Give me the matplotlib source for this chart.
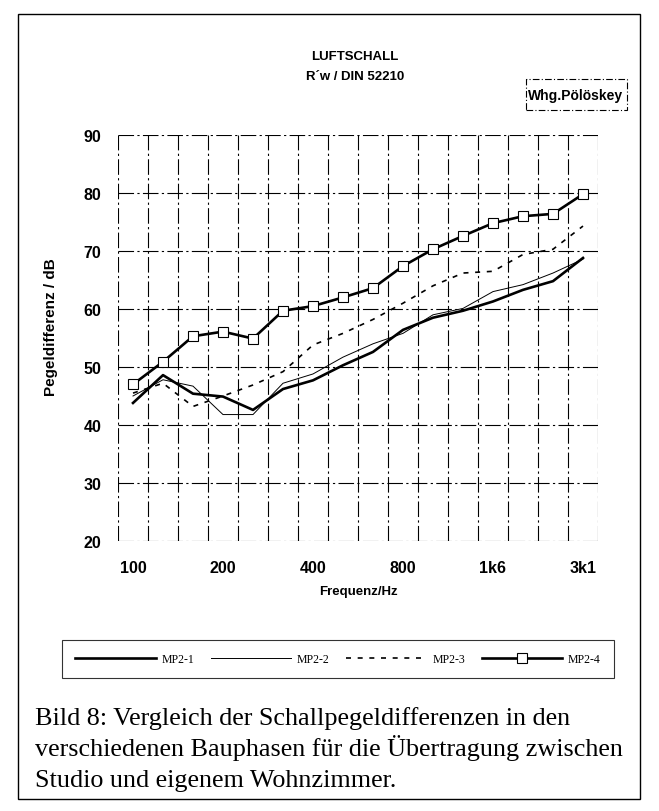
import numpy as np
import matplotlib
matplotlib.use("Agg")
import matplotlib.pyplot as plt
from matplotlib.patches import Rectangle

# Terzband-Mittenfrequenzen (Kategorien) und Achsenbeschriftung
FREQS = ["100", "125", "160", "200", "250", "315", "400", "500",
         "630", "800", "1000", "1250", "1600", "2000", "2500", "3150"]
TICK_LABELS = ["100", "200", "400", "800", "1k6", "3k1"]
Y_TICKS = [20, 30, 40, 50, 60, 70, 80, 90]

# Pegeldifferenz in dB
MP2_1 = [43.8, 48.6, 45.4, 44.9, 42.6, 46.2, 47.7, 50.3,
         52.6, 56.4, 58.5, 59.7, 61.3, 63.3, 64.8, 68.8]
MP2_2 = [45.0, 47.8, 46.7, 41.8, 41.8, 47.2, 48.8, 51.7,
         54.0, 55.8, 59.0, 60.1, 63.0, 64.2, 66.2, 68.6]
MP2_3 = [45.5, 47.2, 43.2, 45.0, 46.9, 49.2, 53.8, 55.8,
         58.2, 61.0, 64.0, 66.2, 66.5, 69.4, 70.3, 74.3]
MP2_4 = [47.0, 50.9, 55.3, 56.1, 54.9, 59.7, 60.5, 62.0,
         63.6, 67.4, 70.3, 72.6, 74.8, 76.0, 76.4, 79.8]

CAPTION = ["Bild 8: Vergleich der Schallpegeldifferenzen in den",
           "verschiedenen Bauphasen f\u00fcr die \u00dcbertragung zwischen",
           "Studio und eigenem Wohnzimmer."]

SANS = ["Liberation Sans", "DejaVu Sans"]
SERIF = ["Liberation Serif", "DejaVu Serif"]

W, H = 659, 812
fig = plt.figure(figsize=(W / 100, H / 100), dpi=100)
fig.patch.set_facecolor("white")


def fx(px):
    return px / W


def fy(py):
    return 1 - py / H


# Plotbereich
left, right, top, bottom = 118, 598, 136, 542
ax = fig.add_axes([fx(left), fy(bottom), fx(right - left), (bottom - top) / H])

x = np.arange(len(FREQS))
ax.plot(x, MP2_1, color="black", lw=1.9, label="MP2-1")
ax.plot(x, MP2_2, color="black", lw=0.7, label="MP2-2")
ax.plot(x, MP2_3, color="black", lw=1.2, ls=(0, (3, 4)), label="MP2-3")
ax.plot(x, MP2_4, color="black", lw=1.9, marker="s", ms=7,
        mfc="white", mec="black", mew=0.8, label="MP2-4")

ax.set_xlim(-0.5, len(FREQS) - 0.5)
ax.set_ylim(20, 90)
ax.set_xticks(x[::3])
ax.set_xticklabels(TICK_LABELS)
ax.set_xticks(np.arange(-0.5, len(FREQS), 1), minor=True)
ax.set_yticks(Y_TICKS)

grid_style = dict(color="black", lw=0.8, ls=(0, (14, 3, 2, 3)))
ax.grid(which="minor", axis="x", **grid_style)
ax.grid(which="major", axis="y", **grid_style)
ax.set_axisbelow(True)
for s in ax.spines.values():
    s.set_visible(False)
ax.tick_params(which="both", length=0)
ax.tick_params(axis="x", pad=14)
ax.tick_params(axis="y", pad=12)
for lab in ax.get_xticklabels() + ax.get_yticklabels():
    lab.set_fontfamily(SANS)
    lab.set_fontsize(11.5)
    lab.set_fontweight("bold")

ax.set_xlabel("Frequenz/Hz", family=SANS, fontsize=9.5, fontweight="bold", labelpad=7)
ax.set_ylabel("Pegeldifferenz / dB", family=SANS, fontsize=11, fontweight="bold")
ax.yaxis.set_label_coords(-0.125, 0.53)

# Titel
fig.text(fx(355), fy(57), "LUFTSCHALL", family=SANS, fontsize=9.5,
         fontweight="bold", ha="center", va="center")
fig.text(fx(355), fy(77), "R\u00b4w / DIN 52210", family=SANS, fontsize=9.5,
         fontweight="bold", ha="center", va="center")
fig.text(fx(576), fy(96), "Whg.P\u00f6l\u00f6skey", family=SANS, fontsize=10,
         fontweight="bold", ha="center", va="center")
fig.add_artist(Rectangle((fx(526), fy(111)), fx(627 - 526), (111 - 80) / H,
                         transform=fig.transFigure, fill=False,
                         ec="black", lw=0.8, ls=(0, (6, 2, 1, 2))))

# Legende
leg = fig.legend(loc="center", bbox_to_anchor=(fx(338), fy(660)), ncol=4,
                 prop={"family": SERIF, "size": 8.5}, handlelength=6.8,
                 handletextpad=0.5, columnspacing=1.4, frameon=True,
                 fancybox=False, borderpad=1.1)
leg.get_frame().set_edgecolor("black")
leg.get_frame().set_linewidth(0.8)

# Bildunterschrift
for i, line in enumerate(CAPTION):
    fig.text(fx(35), fy(725 + 31 * i), line, family=SERIF, fontsize=18.8,
             ha="left", va="baseline")

# Rahmen
fig.add_artist(Rectangle((fx(18), fy(800)), fx(640 - 18), (800 - 15) / H,
                         transform=fig.transFigure, fill=False,
                         ec="black", lw=1.0))

fig.savefig("out.png", dpi=100)
